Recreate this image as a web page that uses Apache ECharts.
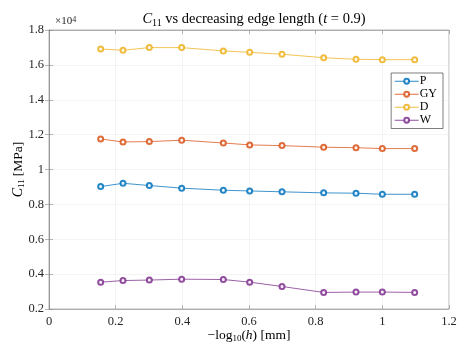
<!DOCTYPE html>
<html>
<head>
<meta charset="utf-8">
<script src="https://cdn.jsdelivr.net/npm/echarts@6/dist/echarts.min.js"></script>
<style>
  html, body { margin: 0; padding: 0; background: #fff; }
  #chart { width: 457px; height: 343px; }
</style>
</head>
<body>
<div id="chart"></div>
<script>
// -log10(h), h = 0.7 ... 0.08 mm
var xVals = [0.155, 0.222, 0.301, 0.398, 0.523, 0.602, 0.699, 0.824, 0.921, 1.0, 1.097];
var seriesNames = ['P', 'GY', 'D', 'W'];
var pVals  = [9020, 9210, 9080, 8930, 8810, 8770, 8720, 8660, 8640, 8580, 8580];
var gyVals = [11750, 11580, 11600, 11680, 11520, 11410, 11370, 11280, 11250, 11200, 11200];
var dVals  = [16910, 16840, 16990, 16990, 16800, 16720, 16610, 16410, 16320, 16300, 16300];
var wVals  = [3540, 3630, 3660, 3710, 3690, 3540, 3290, 2950, 2970, 2970, 2950];
var xTicks = [0, 0.2, 0.4, 0.6, 0.8, 1, 1.2];
var colors = ['#0072BD', '#D95319', '#EDB120', '#7E2F8E'];

var font = 'Liberation Serif';
var allVals = [pVals, gyVals, dVals, wVals];

function pairs(ys) {
  return xVals.map(function (x, i) { return [x, ys[i]]; });
}

var chart = echarts.init(document.getElementById('chart'));

var axisCol = '#262626';
var series = seriesNames.map(function (name, k) {
  return {
    name: name,
    type: 'line',
    data: pairs(allVals[k]),
    symbol: 'emptyCircle',
    symbolSize: 5,
    color: colors[k],
    lineStyle: { width: 0.9, color: colors[k], opacity: 0.85 },
    itemStyle: { color: colors[k], borderWidth: 0.8, opacity: 0.85 },
    animation: false
  };
});

var option = {
  animation: false,
  textStyle: { fontFamily: font },
  title: [
    {
      text: '{i|C}{s|11} vs decreasing edge length ({i|t} = 0.9)',
      left: 249, top: 6, textAlign: 'center',
      textStyle: {
        fontFamily: font, fontSize: 14.5, fontWeight: 'normal', color: '#000',
        rich: {
          i: { fontFamily: font, fontSize: 14.5, fontStyle: 'italic', color: '#000', lineHeight: 17 },
          s: { fontFamily: font, fontSize: 10, color: '#000', lineHeight: 11, verticalAlign: 'bottom' }
        }
      }
    },
    {
      text: '×10{sup|4}',
      left: 50, top: 11,
      textStyle: {
        fontFamily: font, fontSize: 11, fontWeight: 'normal', color: '#262626',
        rich: { sup: { fontFamily: font, fontSize: 8, color: '#262626', verticalAlign: 'top', lineHeight: 8 } }
      }
    }
  ],
  legend: {
    data: seriesNames,
    orient: 'vertical',
    right: 14, top: 73,
    itemWidth: 24, itemHeight: 6, itemGap: 0.5,
    padding: [2, 6, 2, 3],
    backgroundColor: '#fff',
    borderColor: axisCol, borderWidth: 0.6, borderRadius: 0,
    lineStyle: { width: 1 },
    itemStyle: { borderWidth: 0.8 },
    textStyle: { fontFamily: font, fontSize: 12, lineHeight: 12.5, color: '#000', padding: [0, 0, 0, -4] }
  },
  grid: {
    left: 49, right: 8, top: 30, bottom: 34,
    outerBoundsMode: 'none',
    show: true, borderColor: '#888', borderWidth: 0.6
  },
  xAxis: [
    {
      type: 'value', min: 0, max: 1.2, interval: 0.2,
      name: '{n|−log}{s|10}{n|(}{i|h}{n|) [mm]}',
      nameLocation: 'middle', nameGap: 18, nameMoveOverlap: false,
      nameTextStyle: {
        rich: {
          n: { fontFamily: font, fontSize: 13.5, color: '#000', lineHeight: 16 },
          i: { fontFamily: font, fontSize: 13.5, fontStyle: 'italic', color: '#000', lineHeight: 16 },
          s: { fontFamily: font, fontSize: 9, color: '#000', lineHeight: 10, verticalAlign: 'bottom' }
        }
      },
      axisLine: { show: true, lineStyle: { color: '#888', width: 0.6 } },
      axisTick: { inside: true, length: 4, lineStyle: { color: '#888', width: 0.6 } },
      axisLabel: {
        fontFamily: font, fontSize: 12.5, color: '#262626', margin: 6,
        formatter: function (v) { return String(Math.round(v * 10) / 10); }
      },
      splitLine: { show: true, lineStyle: { color: '#ececec', width: 0.6 } }
    },
    {
      type: 'value', min: 0, max: 1.2, interval: 0.2, position: 'top',
      axisLine: { show: true, lineStyle: { color: '#888', width: 0.6 } },
      axisTick: { inside: true, length: 4, lineStyle: { color: '#888', width: 0.6 } },
      axisLabel: { show: false }, splitLine: { show: false }
    }
  ],
  yAxis: [
    {
      type: 'value', min: 2000, max: 18000, interval: 2000,
      name: '{i|C}{s|11} {n|[MPa]}',
      nameLocation: 'middle', nameGap: 23, nameMoveOverlap: false,
      nameTextStyle: {
        rich: {
          n: { fontFamily: font, fontSize: 13.5, color: '#000', lineHeight: 16 },
          i: { fontFamily: font, fontSize: 14, fontStyle: 'italic', color: '#000', lineHeight: 16 },
          s: { fontFamily: font, fontSize: 9, color: '#000', lineHeight: 10, verticalAlign: 'bottom' }
        }
      },
      axisLine: { show: true, lineStyle: { color: '#888', width: 0.6 } },
      axisTick: { show: true, inside: true, length: 4, lineStyle: { color: '#888', width: 0.6 } },
      axisLabel: {
        fontFamily: font, fontSize: 12.5, color: '#262626', margin: 5,
        formatter: function (v) { return String(Math.round(v / 1000) / 10); }
      },
      splitLine: { show: true, lineStyle: { color: '#ececec', width: 0.6 } }
    },
    {
      type: 'value', min: 2000, max: 18000, interval: 2000, position: 'right',
      axisLine: { show: true, lineStyle: { color: '#888', width: 0.6 } },
      axisTick: { show: true, inside: true, length: 4, lineStyle: { color: '#888', width: 0.6 } },
      axisLabel: { show: false }, splitLine: { show: false }
    }
  ],
  series: series
};

chart.setOption(option);
</script>
</body>
</html>
